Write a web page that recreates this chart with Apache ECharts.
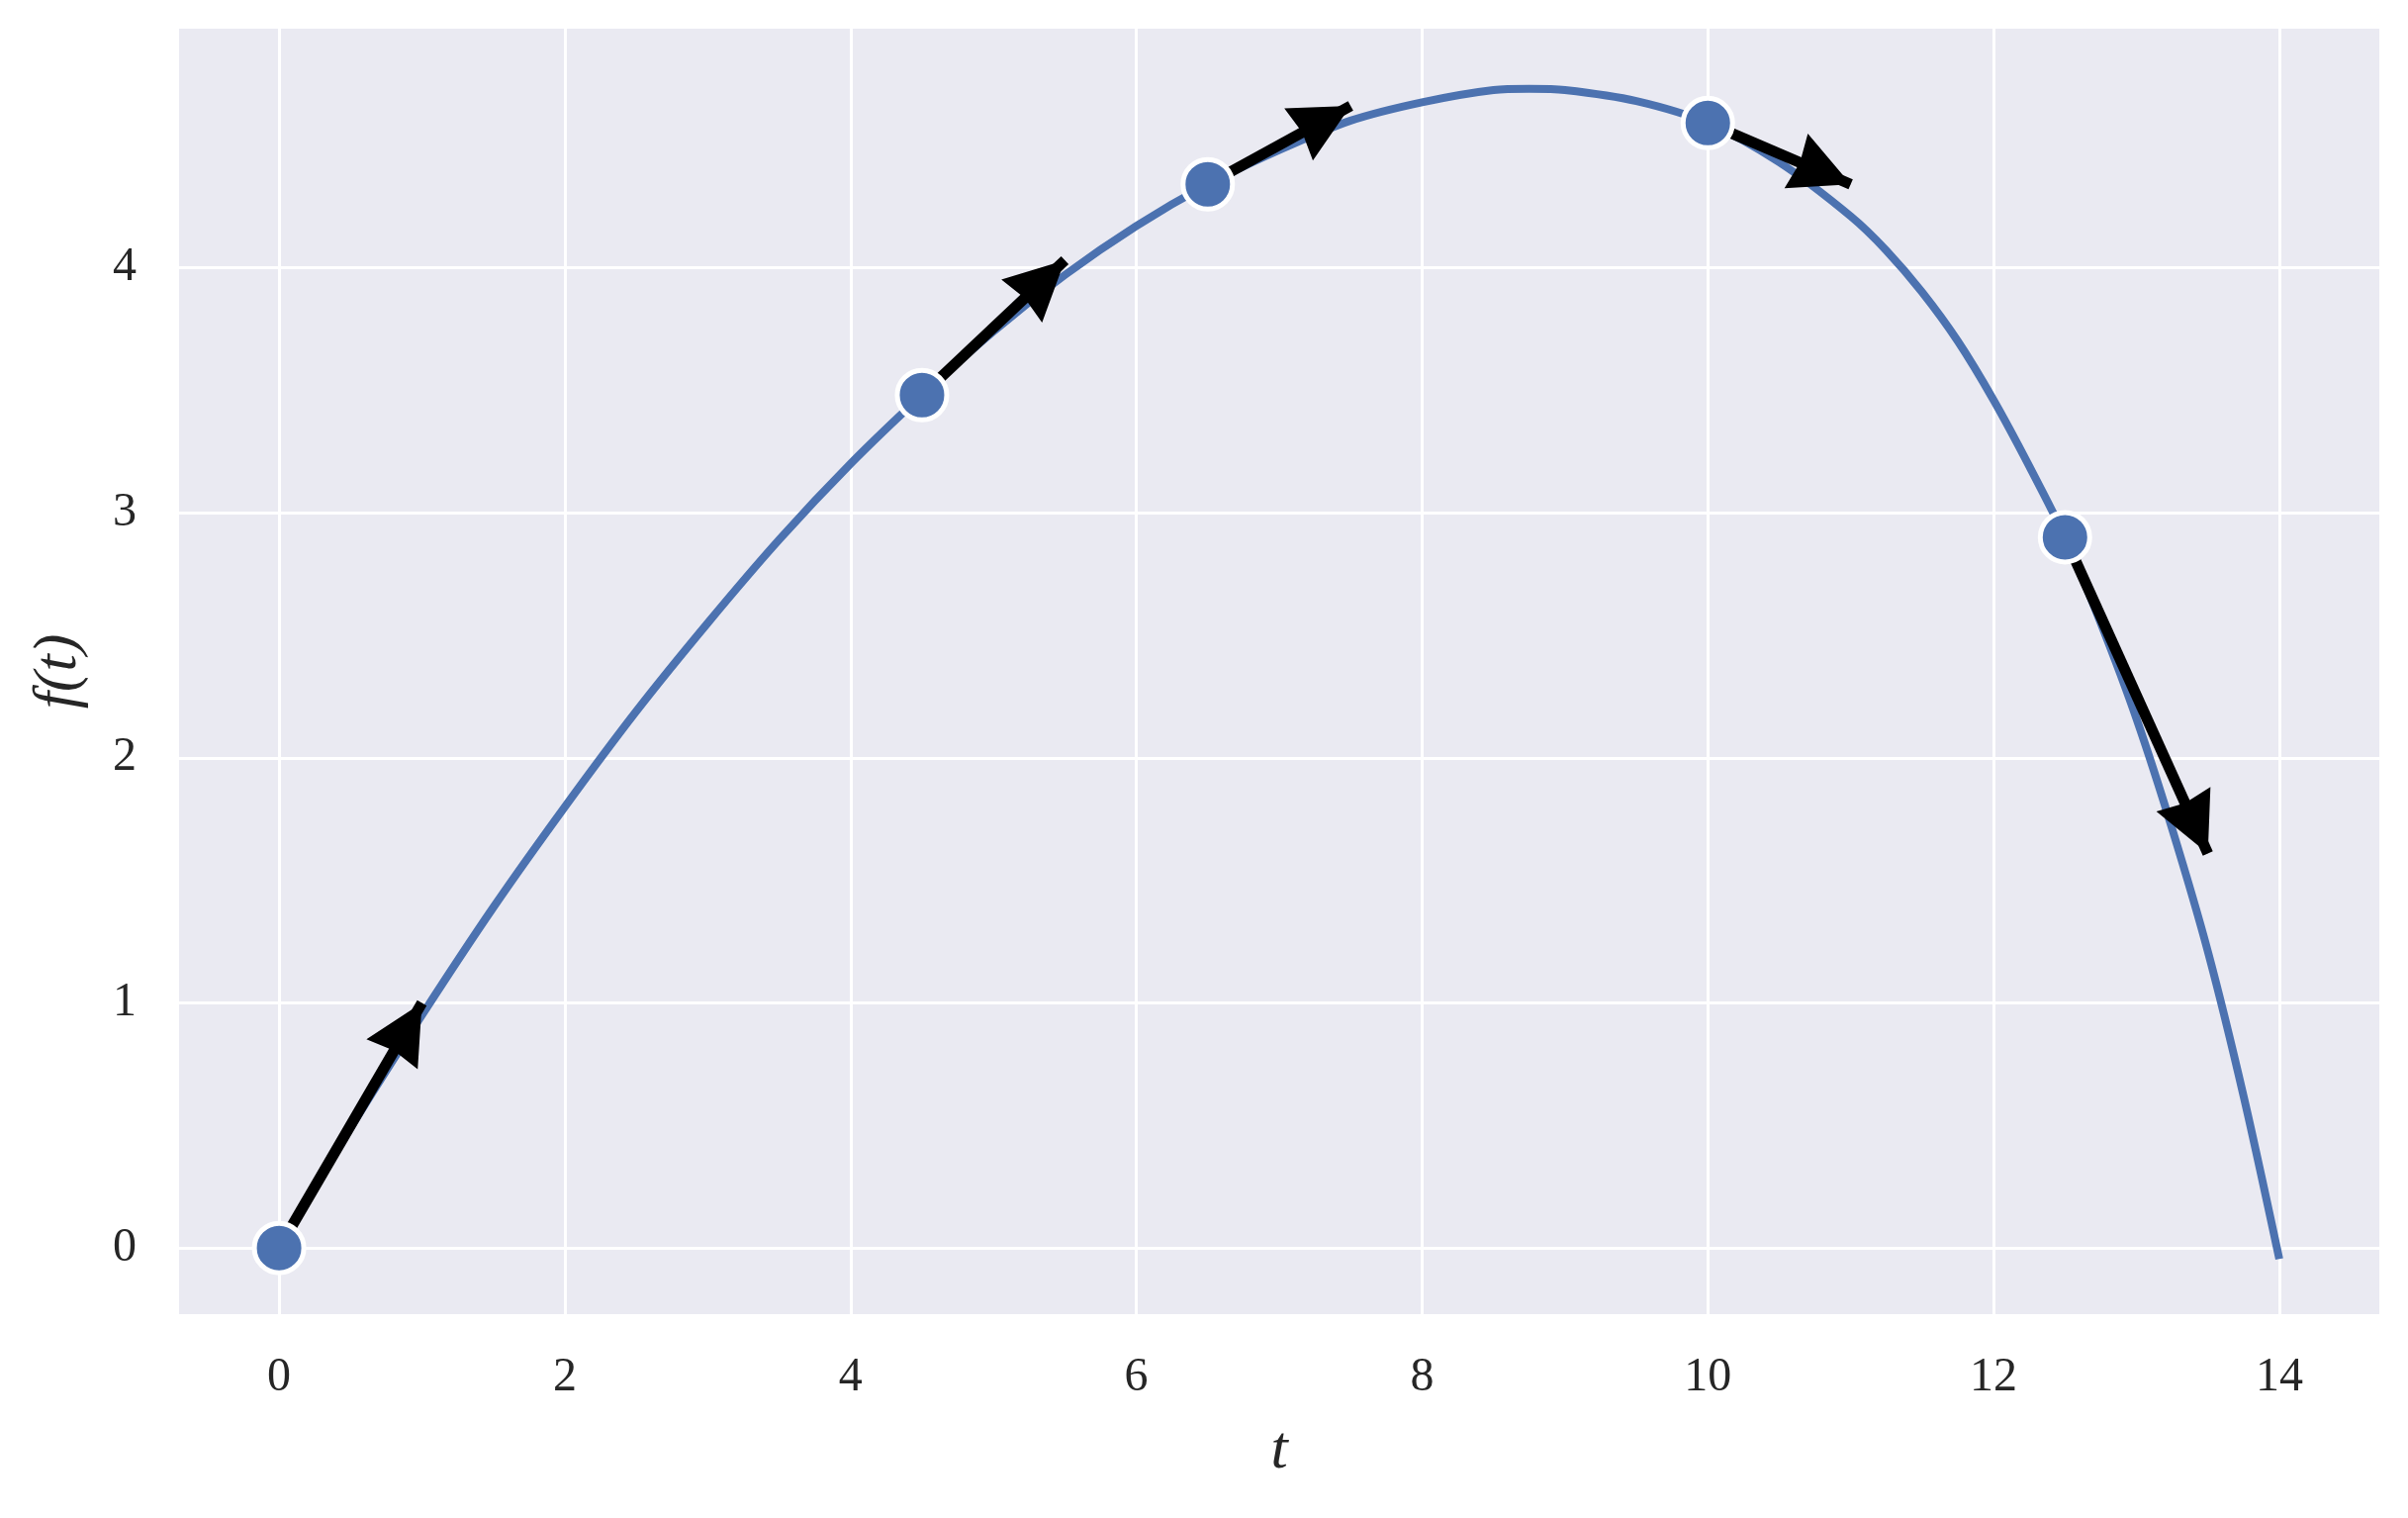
<!DOCTYPE html>
<html>
<head>
<meta charset="utf-8">
<script src="https://cdn.jsdelivr.net/npm/echarts@6/dist/echarts.min.js"></script>
<style>
  html, body { margin: 0; padding: 0; background: #fff; }
  #main { width: 2434px; height: 1534px; }
</style>
</head>
<body>
<div id="main"></div>
<script>
// curve f(t)
var curveT = [0, 0.5, 1, 1.5, 2, 2.5, 3, 3.5, 4, 4.5, 5, 5.5, 6, 6.5, 7, 7.5, 8, 8.5, 8.75, 9, 9.5,
              10, 10.5, 11, 11.25, 11.5, 11.75, 12, 12.25, 12.5, 12.75, 13, 13.25, 13.5, 13.75, 14];
var curveF = [0, 0.49, 0.95, 1.39, 1.80, 2.19, 2.55, 2.89, 3.20, 3.48, 3.74, 3.97, 4.17, 4.34, 4.48, 4.60, 4.675, 4.725, 4.73, 4.725, 4.68,
              4.59, 4.43, 4.21, 4.07, 3.90, 3.70, 3.46, 3.19, 2.90, 2.55, 2.16, 1.71, 1.21, 0.62, -0.045];

// marked points and the tangent slope drawn as an arrow (1, f'(t))
var pointT = [0, 4.5, 6.5, 10, 12.5];
var pointF = [0, 3.48, 4.34, 4.59, 2.90];
var slopes = [1.0, 0.55, 0.32, -0.25, -1.29];

var xTicks = [0, 2, 4, 6, 8, 10, 12, 14];
var yTicks = [0, 1, 2, 3, 4];

var font = 'Liberation Serif';
var blue = '#4C72B0';

var curveData = curveT.map(function (t, i) { return [t, curveF[i]]; });
var pointData = pointT.map(function (t, i) { return [t, pointF[i]]; });
var arrowData = pointT.map(function (t, i) {
    return { coords: [[t, pointF[i]], [t + 1, pointF[i] + slopes[i]]] };
});

// arrow head padded to a square box whose centre is the tip, so the tip lands on the end point
var arrowHead = 'path://M-50,-100 L-50,-100 M150,100 L150,100 M50,0 L100,100 L50,93 L0,100 Z';

var myChart = echarts.init(document.getElementById('main'));
var option = {
    animation: false,
    backgroundColor: '#fff',
    grid: {
        left: 181, right: 29, top: 29, bottom: 206,
        show: true,
        backgroundColor: '#EAEAF2',
        borderWidth: 0
    },
    xAxis: {
        type: 'value',
        min: -0.7,
        max: 14.7,
        name: 't',
        nameLocation: 'middle',
        nameGap: 108,
        nameTextStyle: { fontFamily: font, fontStyle: 'italic', fontSize: 62, color: '#262626' },
        axisLine: { show: false },
        axisTick: { show: false, customValues: xTicks },
        axisLabel: { customValues: xTicks, fontFamily: font, fontSize: 48, color: '#262626', margin: 40 },
        splitLine: { show: true, lineStyle: { color: '#fff', width: 3 } }
    },
    yAxis: {
        type: 'value',
        min: -0.27,
        max: 4.975,
        name: 'f(t)',
        nameLocation: 'middle',
        nameGap: 90,
        nameTextStyle: { fontFamily: font, fontStyle: 'italic', fontSize: 62, color: '#262626' },
        axisLine: { show: false },
        axisTick: { show: false, customValues: yTicks },
        axisLabel: { customValues: yTicks, fontFamily: font, fontSize: 48, color: '#262626', margin: 43 },
        splitLine: { show: true, lineStyle: { color: '#fff', width: 3 } }
    },
    series: [
        {
            type: 'line',
            data: curveData,
            showSymbol: false,
            smooth: 0.3,
            z: 2,
            lineStyle: { color: blue, width: 8 }
        },
        {
            type: 'lines',
            coordinateSystem: 'cartesian2d',
            data: arrowData,
            symbol: ['none', arrowHead],
            symbolSize: 120,
            z: 3,
            lineStyle: { color: '#000', width: 11, opacity: 1 }
        },
        {
            type: 'scatter',
            data: pointData,
            symbolSize: 50,
            z: 4,
            itemStyle: { color: blue, opacity: 1, borderColor: '#fff', borderWidth: 5 }
        }
    ]
};
myChart.setOption(option);
</script>
</body>
</html>
